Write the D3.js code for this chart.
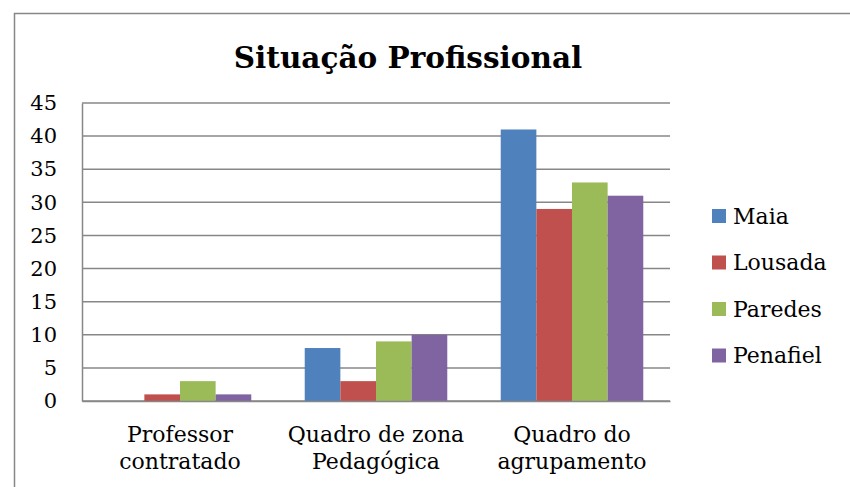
<!DOCTYPE html>
<html>
<head>
<meta charset="utf-8">
<script src="https://cdn.jsdelivr.net/npm/d3@7/dist/d3.min.js"></script>
<style>
  html, body { margin: 0; padding: 0; background: #fff; }
  svg { display: block; }
  text { font-family: "DejaVu Serif", Georgia, serif; fill: #000; }
</style>
</head>
<body>
<svg id="chart" width="850" height="487"></svg>
<script>
// Situação Profissional — professores por concelho
const categories = [["Professor", "contratado"], ["Quadro de zona", "Pedagógica"], ["Quadro do", "agrupamento"]];
const seriesNames = ["Maia", "Lousada", "Paredes", "Penafiel"];
const seriesColors = ["#4F81BD", "#C0504D", "#9BBB59", "#8064A2"];
const maia     = [0, 8, 41];
const lousada  = [1, 3, 29];
const paredes  = [3, 9, 33];
const penafiel = [1, 10, 31];
const yTicks = [0, 5, 10, 15, 20, 25, 30, 35, 40, 45];

const values = [maia, lousada, paredes, penafiel];
const svg = d3.select("#chart");
const serif = "'DejaVu Serif', serif";

// chart frame
svg.append("rect")
  .attr("x", 14.5).attr("y", 13.5)
  .attr("width", 900).attr("height", 600)
  .attr("fill", "#fff").attr("stroke", "#878787").attr("stroke-width", 1.5);

const plot = { left: 82, right: 670, top: 103, bottom: 401 };

const x = d3.scaleBand()
  .domain(d3.range(categories.length))
  .range([plot.left, plot.right])
  .paddingInner(0).paddingOuter(0);

// four touching bars with a gap of 1.5 bar widths between groups
const inner = d3.scaleBand()
  .domain(d3.range(seriesNames.length))
  .range([0, x.bandwidth()])
  .paddingInner(0)
  .paddingOuter(0.75);

const y = d3.scaleLinear().domain([0, 45]).range([plot.bottom, plot.top]);

// gridlines
svg.append("g")
  .selectAll("line")
  .data(yTicks)
  .join("line")
  .attr("x1", plot.left).attr("x2", plot.right)
  .attr("y1", d => y(d)).attr("y2", d => y(d))
  .attr("stroke", "#878787").attr("stroke-width", 1.5);

// y axis
const yAxis = svg.append("g")
  .attr("transform", `translate(${plot.left},0)`)
  .call(d3.axisLeft(y).tickValues(yTicks).tickSize(0).tickPadding(25))
  .attr("font-family", serif).attr("font-size", 21);
yAxis.select(".domain").attr("stroke", "#878787").attr("stroke-width", 1.5);
yAxis.selectAll("text").attr("fill", "#000");

// bars
const groups = svg.append("g")
  .selectAll("g")
  .data(values)
  .join("g")
  .attr("fill", (d, i) => seriesColors[i]);

groups.each(function(series, si) {
  d3.select(this).selectAll("rect")
    .data(series)
    .join("rect")
    .attr("x", (d, ci) => x(ci) + inner(si))
    .attr("width", inner.bandwidth())
    .attr("y", d => y(d))
    .attr("height", d => y(0) - y(d));
});

// x axis
const xAxis = svg.append("g")
  .attr("transform", `translate(0,${plot.bottom})`)
  .call(d3.axisBottom(x).tickSize(0).tickFormat(""))
  .attr("font-family", serif).attr("font-size", 22);
xAxis.select(".domain").attr("stroke", "#878787").attr("stroke-width", 1.5);
xAxis.selectAll(".tick").each(function(ci) {
  const t = d3.select(this).append("text")
    .attr("text-anchor", "middle")
    .attr("fill", "#000");
  categories[ci].forEach((line, li) => {
    t.append("tspan").attr("x", 0).attr("y", 41 + li * 26.5).text(line);
  });
});

// title
svg.append("text")
  .attr("x", 408).attr("y", 68)
  .attr("text-anchor", "middle")
  .attr("font-size", 29.5).attr("font-weight", "bold")
  .text("Situação Profissional");

// legend
const legend = svg.append("g").attr("transform", "translate(712,209)");
const items = legend.selectAll("g")
  .data(seriesNames)
  .join("g")
  .attr("transform", (d, i) => `translate(0,${i * 46.5})`);
items.append("rect")
  .attr("width", 14).attr("height", 14)
  .attr("fill", (d, i) => seriesColors[i]);
items.append("text")
  .attr("x", 21).attr("y", 7).attr("dy", "0.35em")
  .attr("font-size", 22)
  .text(d => d);
</script>
</body>
</html>
